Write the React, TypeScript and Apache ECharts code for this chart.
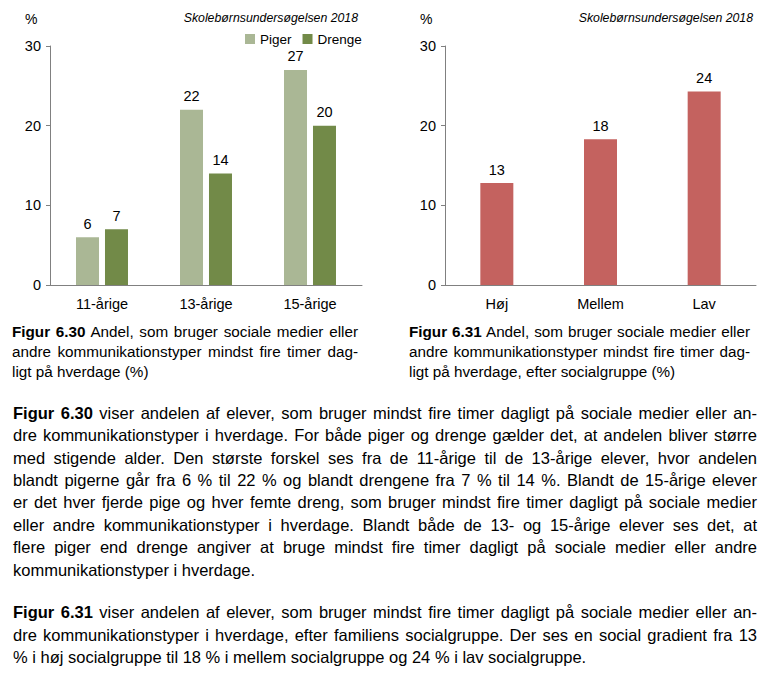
import React, { useEffect, useRef } from "react";
import * as echarts from "echarts";

const ageCategories = ["11-årige", "13-årige", "15-årige"];
const pigerValues = [6, 22, 27];
const drengeValues = [7, 14, 20];
const socialCategories = ["Høj", "Mellem", "Lav"];
const socialValues = [12.8, 18.3, 24.3];
const seriesNames = ["Piger", "Drenge"];
const yMin = 0;
const yMax = 30;
const yInterval = 10;
const sourceText = "Skolebørnsundersøgelsen 2018";
const unitText = "%";

const caption1 = [
  ["Figur 6.30", " Andel, som bruger sociale medier eller"],
  ["", "andre kommunikationstyper mindst fire timer dag-"],
  ["", "ligt på hverdage (%)"],
];
const caption2 = [
  ["Figur 6.31", " Andel, som bruger sociale medier eller"],
  ["", "andre kommunikationstyper mindst fire timer dag-"],
  ["", "ligt på hverdage, efter socialgruppe (%)"],
];
const para1 = [
  ["Figur 6.30", " viser andelen af elever, som bruger mindst fire timer dagligt på sociale medier eller an-"],
  ["", "dre kommunikationstyper i hverdage. For både piger og drenge gælder det, at andelen bliver større"],
  ["", "med stigende alder. Den største forskel ses fra de 11-årige til de 13-årige elever, hvor andelen"],
  ["", "blandt pigerne går fra 6 % til 22 % og blandt drengene fra 7 % til 14 %. Blandt de 15-årige elever"],
  ["", "er det hver fjerde pige og hver femte dreng, som bruger mindst fire timer dagligt på sociale medier"],
  ["", "eller andre kommunikationstyper i hverdage. Blandt både de 13- og 15-årige elever ses det, at"],
  ["", "flere piger end drenge angiver at bruge mindst fire timer dagligt på sociale medier eller andre"],
  ["", "kommunikationstyper i hverdage."],
];
const para2 = [
  ["Figur 6.31", " viser andelen af elever, som bruger mindst fire timer dagligt på sociale medier eller an-"],
  ["", "dre kommunikationstyper i hverdage, efter familiens socialgruppe. Der ses en social gradient fra 13"],
  ["", "% i høj socialgruppe til 18 % i mellem socialgruppe og 24 % i lav socialgruppe."],
];

const FONT = "'Liberation Sans', Arial, sans-serif";
const PIGER = "#aab795";
const DRENGE = "#728a48";
const RED = "#c4625f";
const AXIS = "#808080";

function TextBlock({ lines, left, width, top, lineHeight, fontSize }: any) {
  return (
    <>
      {lines.map((ln: string[], i: number) => {
        const last = i === lines.length - 1;
        return (
          <div
            key={i}
            style={{
              position: "absolute",
              left,
              width,
              top: top + i * lineHeight - lineHeight / 2,
              height: lineHeight,
              lineHeight: lineHeight + "px",
              fontFamily: FONT,
              fontSize,
              color: "#000",
              textAlign: last ? "left" : "justify",
              textAlignLast: last ? "left" : "justify",
              whiteSpace: "nowrap",
            } as any}
          >
            {ln[0] ? <b>{ln[0]}</b> : null}
            {ln[1]}
          </div>
        );
      })}
    </>
  );
}

export default function App() {
  const ref = useRef<HTMLDivElement>(null);
  useEffect(() => {
    if (!ref.current) return;
    const chart = echarts.init(ref.current, undefined, { renderer: "svg" });
    const axisLabel = { color: "#000", fontFamily: FONT, fontSize: 14.5 };
    const yAxisBase = {
      type: "value",
      min: yMin,
      max: yMax,
      interval: yInterval,
      axisLine: { show: true, lineStyle: { color: AXIS, width: 1 } },
      axisTick: { show: true, length: 4, lineStyle: { color: AXIS } },
      splitLine: { show: false },
      axisLabel: { ...axisLabel, margin: 9 },
    };
    const xAxisBase = {
      type: "category",
      axisLine: { show: true, lineStyle: { color: AXIS, width: 1 } },
      axisTick: { show: false },
      axisLabel: { ...axisLabel, margin: 11 },
    };
    const barLabel = {
      show: true,
      position: "top",
      distance: 6,
      color: "#000",
      fontFamily: FONT,
      fontSize: 14.5,
      formatter: (p: any) => String(Math.round(p.value)),
    };
    chart.setOption({
      animation: false,
      backgroundColor: "#fff",
      textStyle: { fontFamily: FONT },
      grid: [
        { left: 50, top: 46, width: 312, height: 239 },
        { left: 445, top: 46, width: 311, height: 239 },
      ],
      xAxis: [
        { ...xAxisBase, gridIndex: 0, data: ageCategories },
        { ...xAxisBase, gridIndex: 1, data: socialCategories },
      ],
      yAxis: [
        { ...yAxisBase, gridIndex: 0 },
        { ...yAxisBase, gridIndex: 1 },
      ],
      legend: {
        data: seriesNames,
        left: 240,
        top: 27,
        itemWidth: 10,
        itemHeight: 10,
        itemGap: 11,
        icon: "rect",
        textStyle: { color: "#000", fontFamily: FONT, fontSize: 13.5 },
      },
      graphic: [
        { type: "text", x: 25, y: 19, style: { text: unitText, fontFamily: FONT, fontSize: 14, fill: "#000", verticalAlign: "middle" } },
        { type: "text", x: 420, y: 19, style: { text: unitText, fontFamily: FONT, fontSize: 14, fill: "#000", verticalAlign: "middle" } },
        { type: "text", x: 358, y: 18, style: { text: sourceText, fontFamily: FONT, fontSize: 12.3, fontStyle: "italic", fill: "#000", align: "right", verticalAlign: "middle" } },
        { type: "text", x: 753, y: 18, style: { text: sourceText, fontFamily: FONT, fontSize: 12.3, fontStyle: "italic", fill: "#000", align: "right", verticalAlign: "middle" } },
      ],
      series: [
        {
          name: seriesNames[0],
          type: "bar",
          xAxisIndex: 0,
          yAxisIndex: 0,
          data: pigerValues,
          barWidth: 23,
          barGap: "26%",
          itemStyle: { color: PIGER },
          label: barLabel,
        },
        {
          name: seriesNames[1],
          type: "bar",
          xAxisIndex: 0,
          yAxisIndex: 0,
          data: drengeValues,
          barWidth: 23,
          barGap: "26%",
          itemStyle: { color: DRENGE },
          label: barLabel,
        },
        {
          name: "Socialgruppe",
          type: "bar",
          xAxisIndex: 1,
          yAxisIndex: 1,
          data: socialValues,
          barWidth: 33,
          itemStyle: { color: RED },
          label: barLabel,
        },
      ],
    });
    return () => chart.dispose();
  }, []);

  return (
    <div style={{ position: "absolute", left: 0, top: 0, width: 767, height: 681, background: "#fff", overflow: "hidden" }}>
      <div ref={ref} style={{ position: "absolute", left: 0, top: 0, width: 767, height: 315 }} />
      <TextBlock lines={caption1} left={12} width={346} top={332} lineHeight={20} fontSize={15.25} />
      <TextBlock lines={caption2} left={409} width={341} top={332} lineHeight={20} fontSize={15.25} />
      <TextBlock lines={para1} left={13} width={744} top={413} lineHeight={22.4} fontSize={16.5} />
      <TextBlock lines={para2} left={13} width={744} top={612.5} lineHeight={22.4} fontSize={16.5} />
    </div>
  );
}
